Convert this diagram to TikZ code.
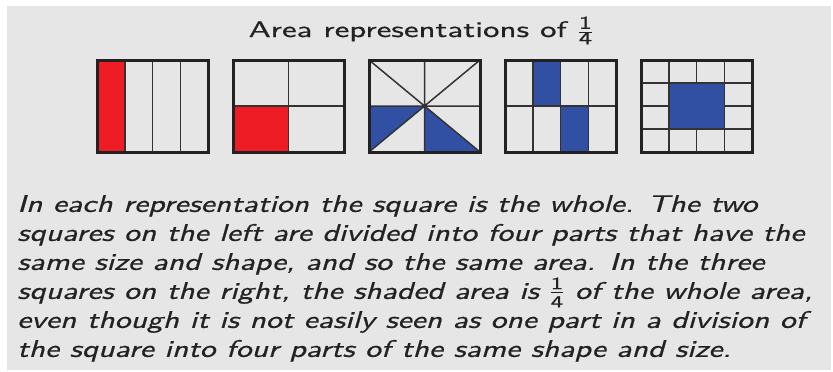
\documentclass[tikz,border=0pt]{standalone}
\usepackage{fontspec}
\newfontfamily\parafont{lmsans10-regular.otf}[ItalicFont=lmsans10-oblique.otf,FakeStretch=1.32,FakeBold=0.7]
\newfontfamily\titlefont{lmsans10-regular.otf}[FakeStretch=1.47,FakeBold=0.7]
\definecolor{bg}{HTML}{E6E6E6}
\definecolor{fracred}{HTML}{EE1D25}
\definecolor{fracblue}{HTML}{3250A3}
\definecolor{frame}{HTML}{222222}
\definecolor{inner}{HTML}{333333}
\definecolor{txt}{HTML}{222222}
\newcommand\qfrac[1]{$\frac{\hbox{\titlefont\fontsize{#1}{#1}\selectfont 1}}{\hbox{\titlefont\fontsize{#1}{#1}\selectfont 4}}$}
\begin{document}
\begin{tikzpicture}[x=1pt,y=-1pt,
  outerbox/.style={draw=frame,line width=3pt},
  innerline/.style={draw=inner,line width=1.5pt},
  redpart/.style={fill=fracred},
  bluepart/.style={fill=fracblue},
  bluecell/.style={fill=fracblue,draw=inner,line width=1.5pt}]
\useasboundingbox (0,0) rectangle (833,372);
\fill[white] (0,0) rectangle (833,372);
\fill[bg] (7,6) rectangle (831,370);
% title
\node[anchor=base,inner sep=0,text=txt,font=\titlefont\fontsize{22.4}{26}\selectfont] (title) at (421,37) {Area representations of \qfrac{18}};
% square 1
\begin{scope}[shift={(97,60)}]
  \fill[redpart] (0,0) rectangle (27.75,92);
  \foreach \x in {27.75,55.5,83.25} \draw[innerline] (\x,0) -- (\x,92);
  \draw[outerbox] (0,0) rectangle (111,92);
\end{scope}
% square 2
\begin{scope}[shift={(233,60)}]
  \fill[redpart] (0,46) rectangle (55.5,92);
  \draw[innerline] (55.5,0) -- (55.5,92) (0,46) -- (111,46);
  \draw[outerbox] (0,0) rectangle (111,92);
\end{scope}
% square 3
\begin{scope}[shift={(369,60)}]
  \fill[bluepart] (0,46) -- (55.5,46) -- (0,92) -- cycle;
  \fill[bluepart] (55.5,46) -- (55.5,92) -- (111,92) -- cycle;
  \draw[innerline] (55.5,0) -- (55.5,92) (0,46) -- (111,46)
                   (0,0) -- (111,92) (111,0) -- (0,92);
  \draw[outerbox] (0,0) rectangle (111,92);
\end{scope}
% square 4
\begin{scope}[shift={(505,60)}]
  \fill[bluepart] (27.75,0) rectangle (55.5,46);
  \fill[bluepart] (55.5,46) rectangle (83.25,92);
  \foreach \x in {27.75,55.5,83.25} \draw[innerline] (\x,0) -- (\x,92);
  \draw[innerline] (0,46) -- (111,46);
  \draw[outerbox] (0,0) rectangle (111,92);
\end{scope}
% square 5
\begin{scope}[shift={(641,60)}]
  \foreach \x in {27.75,55.5,83.25} \draw[innerline] (\x,0) -- (\x,92);
  \foreach \y in {23,46,69} \draw[innerline] (0,\y) -- (111,\y);
  \draw[bluecell] (27.75,23) rectangle (83.25,69);
  \draw[outerbox] (0,0) rectangle (111,92);
\end{scope}
% paragraph
\node[anchor=north west,inner sep=0,align=left,text=txt,
  font=\parafont\itshape\fontsize{24}{29}\selectfont] (para) at (17,195)
{In each representation the square is the whole.  The two\\
squares on the left are divided into four parts that have the\\
same size and shape, and so the same area.  In the three\\
squares on the right, the shaded area is \qfrac{17}\ of the whole area,\\
even though it is not easily seen as one part in a division of\\
the square into four parts of the same shape and size.};
\end{tikzpicture}
\end{document}
